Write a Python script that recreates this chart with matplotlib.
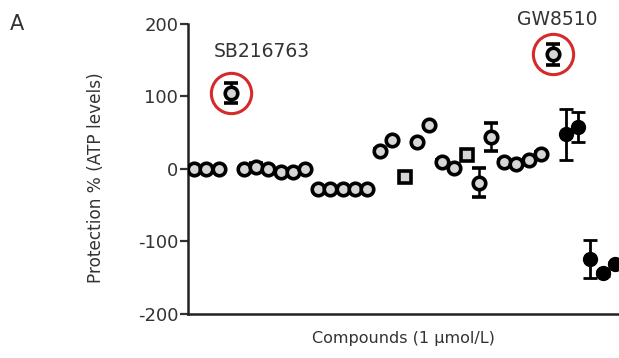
import matplotlib
matplotlib.use("Agg")
import matplotlib.pyplot as plt
import numpy as np

plt.rcParams['font.family'] = ['DejaVu Sans']
plt.rcParams['axes.unicode_minus'] = False

# Compound index along the x axis
compound = list(range(1, 36))
# Protection % (ATP levels) for each compound, and its error
protection = [0, 0, 0, 105, 0, 3, 0, -4, -4, 0,
              -28, -28, -28, -28, -28, 25, 40, -11, 37, 60,
              10, 1, 19, -19, 44, 10, 7, 12, 21, 158,
              48, 58, -124, -144, -131]
error = [2, 2, 2, 14, 2, 5, 2, 2, 2, 2,
         2, 2, 2, 2, 2, 2, 2, 2, 2, 2,
         2, 2, 2, 20, 19, 2, 2, 2, 2, 15,
         35, 21, 26, 3, 3]
# Marker style per compound: open circle, open square or filled circle
marker_kind = ['o'] * 17 + ['s'] + ['o'] * 4 + ['s'] + ['o'] * 7 + ['f'] * 5
highlighted = {4: 'SB216763', 30: 'GW8510'}
# Where each highlighted name sits (data coordinates)
name_pos = {4: (6.5, 162), 30: (30.35, 206)}

fig = plt.figure(figsize=(6.19, 3.58), dpi=100)
ax = fig.add_axes([0.3037, 0.1229, 0.6963, 0.8101])

for x, y, e, k in zip(compound, protection, error, marker_kind):
    if k == 'f':
        ax.errorbar(x, y, yerr=e, fmt='o', ms=10, mfc='black', mec='black',
                    ecolor='black', elinewidth=2, capsize=5, capthick=2, zorder=3)
    else:
        ax.errorbar(x, y, yerr=e, fmt=k, ms=9 if k == 'o' else 8.5,
                    mfc='#d6d6d6', mec='black', mew=2.6,
                    ecolor='black', elinewidth=1.8, capsize=5, capthick=2, zorder=3)

# Red rings and names for the two highlighted compounds
for idx, name in highlighted.items():
    x, y = compound[idx - 1], protection[idx - 1]
    ax.plot(x, y, 'o', ms=29, mfc='none', mec='#d42a2a', mew=2.2, zorder=4,
            clip_on=False)
    tx, ty = name_pos[idx]
    ax.text(tx, ty, name, ha='center', va='center', fontsize=13.5,
            color='#333333', clip_on=False)

ax.set_xlim(0.52, 35.3)
ax.set_ylim(-200, 200)
ax.set_yticks([-200, -100, 0, 100, 200])
ax.set_xticks([])
ax.tick_params(axis='y', length=6, width=1.6, labelsize=13, colors='#333333',
               labelcolor='#333333', pad=1)
for side in ['top', 'right']:
    ax.spines[side].set_visible(False)
for side in ['left', 'bottom']:
    ax.spines[side].set_linewidth(1.8)
    ax.spines[side].set_color('#222222')

ax.set_ylabel('Protection % (ATP levels)', fontsize=12.2, color='#333333')
ax.yaxis.set_label_coords(-0.193, 0.469)
ax.set_xlabel('Compounds (1 μmol/L)', fontsize=11.5, color='#333333', labelpad=12)
fig.text(0.016, 0.915, 'A', fontsize=15, color='#333333')

fig.savefig('out.png', dpi=100)
